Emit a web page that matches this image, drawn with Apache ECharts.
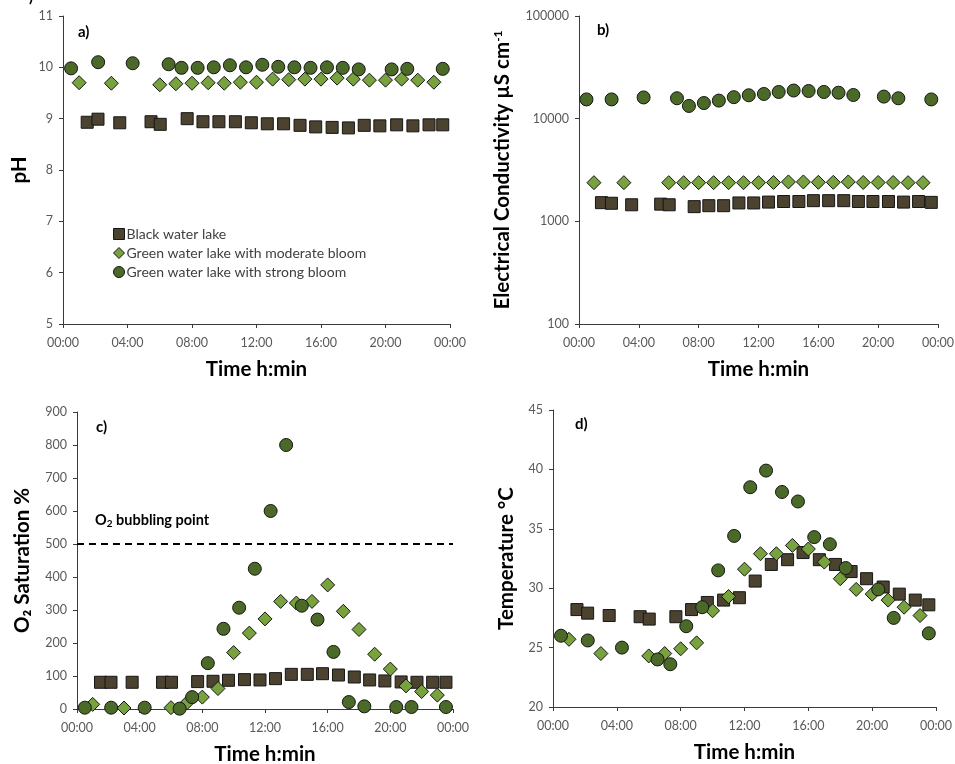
<!DOCTYPE html>
<html>
<head>
<meta charset="utf-8">
<script src="https://cdn.jsdelivr.net/npm/echarts@6/dist/echarts.min.js"></script>
<style>
html,body{margin:0;padding:0;background:#fff;}
#chart{width:955px;height:764px;}
</style>
</head>
<body>
<div id="chart"></div>
<script>
// Sampling times (hours since midnight)
const tBlack = [1.5,2.17,3.52,5.46,6.03,7.7,8.68,9.67,10.69,11.68,12.67,13.68,14.7,15.67,16.69,17.7,18.68,19.65,20.69,21.7,22.7,23.55];
const tModerate = [1,3,6,7,8,9,10,11,12,13,14,15,16,17,18,19,20,21,22,23];
const tStrong = [0.5,2.18,4.32,6.55,7.35,8.35,9.35,10.35,11.35,12.36,13.35,14.35,15.35,16.37,17.35,18.34,20.38,21.35,23.55];

const seriesNames = ['Black water lake','Green water lake with moderate bloom','Green water lake with strong bloom'];

// a) pH
const phBlack = [8.93,8.99,8.92,8.94,8.89,9.00,8.94,8.94,8.94,8.92,8.90,8.90,8.87,8.84,8.83,8.82,8.87,8.86,8.88,8.86,8.88,8.88];
const phModerate = [9.70,9.69,9.66,9.68,9.69,9.70,9.69,9.71,9.71,9.77,9.76,9.77,9.77,9.79,9.77,9.75,9.75,9.77,9.75,9.71];
const phStrong = [9.98,10.10,10.08,10.06,9.99,9.99,10.00,10.04,10.00,10.05,10.01,10.00,9.99,10.00,9.99,9.96,9.96,9.97,9.97];

// b) Electrical conductivity
const ecBlack = [1520,1500,1450,1470,1450,1390,1420,1420,1510,1510,1540,1560,1560,1590,1590,1590,1560,1560,1560,1540,1560,1530];
const ecModerate = [2380,2380,2380,2380,2380,2380,2380,2380,2380,2390,2420,2420,2400,2400,2420,2390,2390,2390,2380,2380];
const ecStrong = [15400,15400,16100,15800,13300,14200,15000,16200,16900,17400,18200,18800,18600,18200,17900,17000,16400,15800,15400];

// c) O2 saturation
const o2Black = [81,81,81,81,81,83,84,87,89,88,92,105,105,107,103,97,88,85,82,81,81,81];
const o2Moderate = [14,3,4,18,36,62,171,230,273,326,321,326,376,296,241,166,121,70,53,42];
const o2Strong = [4,4,4,1,36,139,243,307,425,600,800,313,271,173,21,8,6,6,6];
const o2Bubbling = 500;

// d) Temperature
const tempBlack = [28.2,27.9,27.7,27.6,27.4,27.6,28.2,28.8,29.0,29.2,30.6,32.0,32.4,33.0,32.4,32.0,31.4,30.8,30.1,29.5,29.0,28.6];
const tempModerate = [25.7,24.5,24.3,24.5,24.9,25.4,28.1,29.3,31.6,32.9,32.9,33.6,33.3,32.2,30.8,29.9,29.5,29.0,28.4,27.7];
const tempStrong = [26.0,25.6,25.0,24.0,23.6,26.8,28.4,31.5,34.4,38.5,39.9,38.1,37.3,34.3,33.7,31.7,29.9,27.5,26.2];

const FONT = 'Lato, "Open Sans", sans-serif';
const colBlack = '#4b4230';
const colModerate = '#77a23e';
const colStrong = '#4b6a27';
const symbols = ['rect','diamond','circle'];
const colors = [colBlack, colModerate, colStrong];
const sizes = [12, 14, 13];
const times = [tBlack, tModerate, tStrong];

function zip(t, v){ return t.map((x,i)=>[x, v[i]]); }
function fmtTime(v){ const h = Math.round(v) % 24; return (h<10?'0':'')+h+':00'; }

const grids = [
  {left:63, top:16, width:387, height:308, outerBoundsMode:'none', containLabel:false},
  {left:579, top:16, width:359, height:308, outerBoundsMode:'none', containLabel:false},
  {left:77, top:412, width:376, height:297, outerBoundsMode:'none', containLabel:false},
  {left:553, top:410, width:383, height:297, outerBoundsMode:'none', containLabel:false}
];

const axisLineStyle = {lineStyle:{color:'#3a3a3a', width:1}};
const tickLabel = {color:'#595959', fontSize:12.5, fontFamily:FONT};
const TITLE_SIZE = 20.5;

function xAxis(gi, gap){
  return {
    type:'value', gridIndex:gi, min:0, max:24, interval:4,
    axisLine:{show:true, onZero:false, ...axisLineStyle},
    axisTick:{show:true, length:4, lineStyle:{color:'#3a3a3a'}},
    axisLabel:{...tickLabel, formatter:fmtTime, margin:12},
    splitLine:{show:false},
    name:'Time h:min', nameLocation:'middle', nameGap:gap,
    nameTextStyle:{fontFamily:FONT, fontWeight:'bold', fontSize:TITLE_SIZE, color:'#000'}
  };
}
function yAxis(gi, opts, name, gap, rich){
  return Object.assign({
    type:'value', gridIndex:gi,
    axisLine:{show:true, onZero:false, ...axisLineStyle},
    axisTick:{show:true, length:4, lineStyle:{color:'#3a3a3a'}},
    axisLabel:{...tickLabel, margin:10, formatter:(v)=>String(v)},
    splitLine:{show:false},
    name:name, nameLocation:'middle', nameGap:gap, nameRotate:90,
    nameTextStyle:Object.assign({fontFamily:FONT, fontWeight:'bold', fontSize:TITLE_SIZE, color:'#000'}, rich?{rich:rich}:{})
  }, opts);
}

const panelData = [
  [phBlack, phModerate, phStrong],
  [ecBlack, ecModerate, ecStrong],
  [o2Black, o2Moderate, o2Strong],
  [tempBlack, tempModerate, tempStrong]
];

const series = [];
panelData.forEach((arrs, gi)=>{
  arrs.forEach((vals, si)=>{
    series.push({
      type:'scatter', name:seriesNames[si], xAxisIndex:gi, yAxisIndex:gi,
      data:zip(times[si], vals), symbol:symbols[si], symbolSize:sizes[si],
      itemStyle:{color:colors[si], borderColor:'#161616', borderWidth:1, opacity:1},
      emphasis:{disabled:true}, z: 2 + si
    });
  });
});
// dashed O2 bubbling point line in panel c
series.push({
  type:'line', xAxisIndex:2, yAxisIndex:2, symbol:'none', silent:true,
  data:[[0,o2Bubbling],[24,o2Bubbling]],
  lineStyle:{color:'#000', width:2, type:[7,5]}, z:1
});

const option = {
  backgroundColor:'#fff',
  animation:false,
  grid:grids,
  xAxis:[xAxis(0,35), xAxis(1,35), xAxis(2,35), xAxis(3,35)],
  yAxis:[
    yAxis(0,{min:5,max:11,interval:1},'pH',33),
    yAxis(1,{type:'log',logBase:10,min:100,max:100000},'Electrical Conductivity µS cm{sup|-1}',66,
      {sup:{fontFamily:FONT, fontWeight:'bold', fontSize:12, color:'#000', verticalAlign:'top', padding:[0,0,9,0]}}),
    yAxis(2,{min:0,max:900,interval:100},'O₂ Saturation %',44),
    yAxis(3,{min:20,max:45,interval:5},'Temperature °C',36)
  ],
  legend:{
    data:[
      {name:seriesNames[0], icon:'rect'},
      {name:seriesNames[1], icon:'diamond'},
      {name:seriesNames[2], icon:'circle'}
    ],
    orient:'vertical', left:108, top:222, itemWidth:11, itemHeight:11, itemGap:5,
    textStyle:{fontFamily:FONT, fontSize:14, color:'#404040', padding:[0,0,0,-3]},
    itemStyle:{borderColor:'#161616', borderWidth:1},
    selectedMode:false
  },
  graphic:[
    {type:'text', left:29, top:-10, style:{text:')', font:'bold 15px '+FONT, fill:'#000'}},
    {type:'text', left:78, top:25, style:{text:'a)', font:'bold 15px '+FONT, fill:'#000'}},
    {type:'text', left:597, top:23, style:{text:'b)', font:'bold 15px '+FONT, fill:'#000'}},
    {type:'text', left:96, top:420, style:{text:'c)', font:'bold 15px '+FONT, fill:'#000'}},
    {type:'text', left:575, top:417, style:{text:'d)', font:'bold 15px '+FONT, fill:'#000'}},
    {type:'text', left:95, top:513, style:{
      text:'O{sub|2} bubbling point',
      font:'bold 14.5px '+FONT, fill:'#000',
      rich:{sub:{font:'bold 10px '+FONT, fill:'#000', verticalAlign:'bottom', padding:[7,0,0,0]}}
    }}
  ],
  series:series
};

const chart = echarts.init(document.getElementById('chart'), null, {renderer:'canvas'});
chart.setOption(option);
</script>
</body>
</html>
